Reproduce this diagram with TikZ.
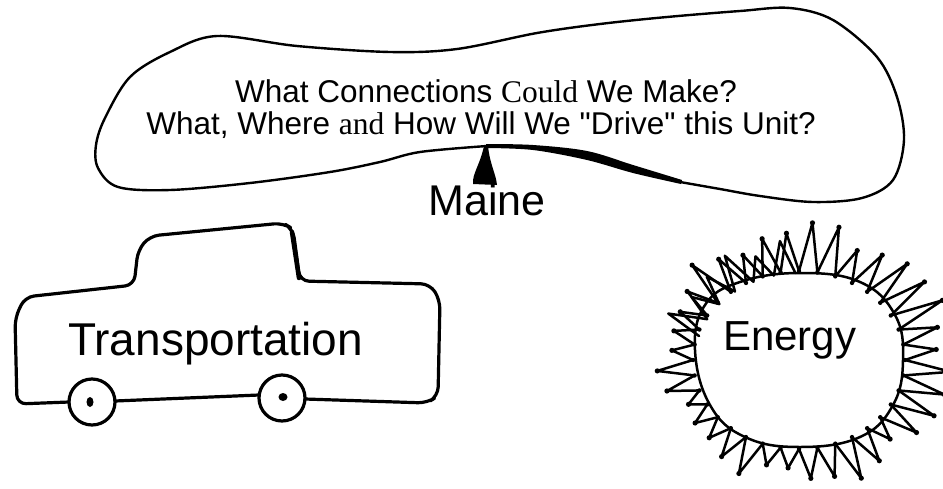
\documentclass[tikz,border=0pt]{standalone}
\usepackage{fontspec}
\setmainfont{Liberation Sans}[Ligatures=TeXOff]
\newfontfamily\timesword{Liberation Serif}[Ligatures=TeXOff]

\begin{document}
\begin{tikzpicture}[x=1pt, y=-1pt, line join=round, line cap=round,
	pen/.style={line width=2.4pt},
	heavy/.style={line width=3.2pt},
	sunray/.style={line width=2.5pt},
	label/.style={inner sep=0pt, anchor=base}]
	\useasboundingbox (0,0) rectangle (943,488);

	% speech cloud, thin outline then the heavy stroke under the text
	\draw[pen] plot[smooth, tension=0.55] coordinates {
		(487,146) (420,152) (380,162) (330,172) (250,183) (170,190) (118,187)
		(98,168) (96,145) (105,118) (130,77) (170,52) (217,36) (297,46)
		(390,52) (457,49) (537,33) (600,24) (667,17) (740,11) (790,8)
		(833,20) (877,57) (897,97) (904,140) (893,180) (862,198) (813,202)
		(760,196) (720,189) (680,182)};
	\fill plot[smooth, tension=0.55] coordinates {(486,144) (533,145) (587,151) (633,165) (682,180)}
		-- plot[smooth, tension=0.55] coordinates {(681,184) (633,173) (587,160) (533,150) (486,148)} -- cycle;
	\node[label, font=\fontsize{31.5}{33}\selectfont] (line1) at (486,102)
		{What Connections {\timesword Could} We Make?};
	\node[label, font=\fontsize{31.5}{33}\selectfont] (line2) at (481,134)
		{What, Where {\timesword and} How Will We "Drive" this Unit?};
	\node[label, font=\fontsize{43}{43}\selectfont] (maine) at (487,215) {Maine};
	\fill (484,146) .. controls (480,165) and (472,174) .. (473,184)
		-- (497,185) .. controls (496,174) and (490,165) .. (488,146) -- cycle;

	% truck
	\draw[heavy, rounded corners=9pt] (305,399) -- (427,403) -- (438,396) -- (440,300)
		-- (430,284) -- (300,281) -- (293,229) -- (283,223) -- (150,236) -- (138,250)
		-- (134,285) -- (25,297) -- (15,318) -- (17,404) -- (69,402);
	\draw[line width=4.5pt] (292,232) -- (299,278);
	\draw[heavy] (115,401) -- (259,395);
	\draw[heavy] (92,402) circle (23) (282,398) circle (23);
	\fill (90,402) ellipse (3.5 and 5) (283,397) ellipse (4.5 and 4);
	\node[label, anchor=base west, font=\fontsize{46}{46}\selectfont] (transport) at (68,355) {Transportation};

	% sun
	\draw[sunray] plot[smooth cycle, tension=0.7] coordinates {
		(695,350) (705,305) (740,282) (800,273) (860,282) (895,315) (903,360)
		(893,405) (860,437) (800,447) (745,437) (710,405)};
	\foreach \a in {0,10,...,350}{
		\pgfmathsetmacro\len{34+8*sin(7*\a)+5*cos(13*\a)-6*sin(\a+5)+8*cos(\a+5)}
		\draw[sunray] ({799+106*cos(\a)},{360+89*sin(\a)})
			-- ({799+(106+\len)*cos(\a+5)},{360+(89+\len)*sin(\a+5)})
			-- ({799+106*cos(\a+10)},{360+89*sin(\a+10)});
		\fill ({799+(106+\len)*cos(\a+5)},{360+(89+\len)*sin(\a+5)}) circle (2.6);
		\fill ({799+106*cos(\a)},{360+89*sin(\a)}) circle (2.2);
	}
	% second row of rays over the upper left
	\foreach \a in {196,208,...,256}{
		\pgfmathsetmacro\len{30+7*cos(11*\a)}
		\draw[sunray] ({799+104*cos(\a)},{360+87*sin(\a)})
			-- ({799+(104+\len)*cos(\a+6)},{360+(87+\len)*sin(\a+6)})
			-- ({799+104*cos(\a+12)},{360+87*sin(\a+12)});
	}
	\node[label, anchor=base west, font=\fontsize{42}{42}\selectfont] (energy) at (723,350) {Energy};
\end{tikzpicture}
\end{document}
